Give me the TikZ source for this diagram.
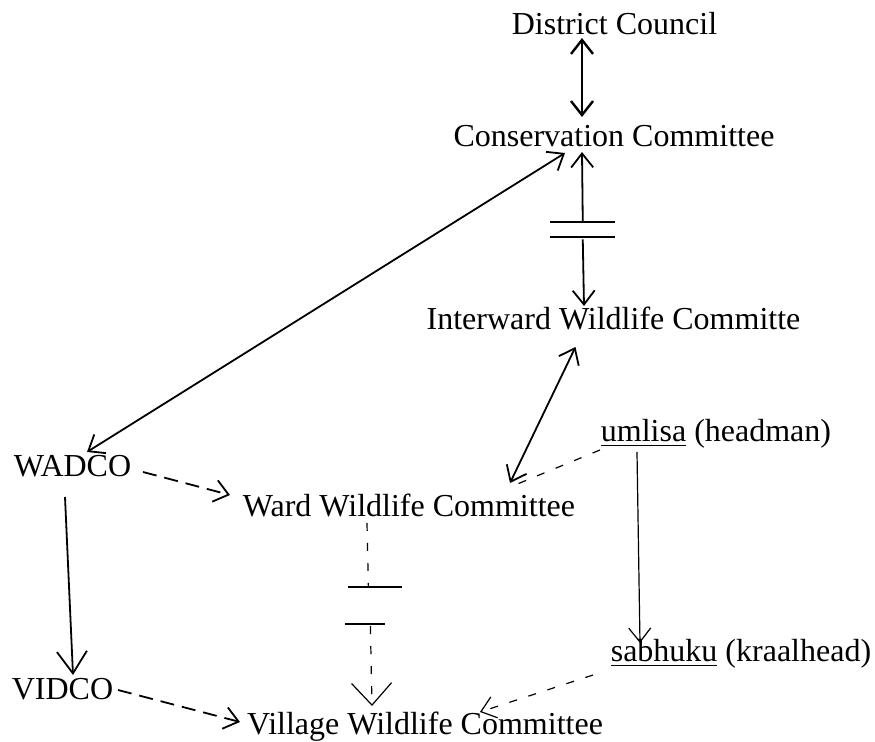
\documentclass[tikz,border=0pt]{standalone}
\usepackage{fontspec}
\setmainfont{Liberation Serif}
\usetikzlibrary{arrows.meta,calc}
\definecolor{InkClr}{rgb}{0,0,0}
\newcommand{\ulword}[1]{\underline{#1}}

\begin{document}
\begin{tikzpicture}[x=0.5pt,y=-0.5pt,
  unit/.style={font=\fontsize{16}{19}\selectfont,inner sep=0pt,anchor=base,text=InkClr},
  link/.style={line width=0.9pt,color=InkClr},
  thin link/.style={line width=0.6pt,color=InkClr},
  oneway/.style={-{Straight Barb[length=7pt,width=11pt]}},
  twoway/.style={{Straight Barb[length=7pt,width=11pt]}-{Straight Barb[length=7pt,width=11pt]}},
  bigway/.style={-{Straight Barb[length=11pt,width=15pt]}},
  hugeway/.style={-{Straight Barb[length=11pt,width=20pt]}},
  longdash/.style={dash pattern=on 7pt off 4pt},
  shortdash/.style={dash pattern=on 4pt off 6pt}]
\useasboundingbox (0,0) rectangle (875,742);

\node[unit] (dc) at (614.5,35) {District Council};
\node[unit] (cc) at (614,147) {Conservation Committee};
\node[unit] (iw) at (613.5,330) {Interward Wildlife Committe};
\node[unit] (wadco) at (72.5,477) {WADCO};
\node[unit] (ww) at (409,517) {Ward Wildlife Committee};
\node[unit] (um) at (716,442) {\ulword{umlisa} (headman)};
\node[unit] (sb) at (741,662) {\ulword{sabhuku} (kraalhead)};
\node[unit] (vidco) at (62.5,700) {VIDCO};
\node[unit] (vw) at (425,735) {Village Wildlife Committee};

\coordinate (gapA) at ($(cc.base)!0.45!(iw.base)+(-31,0)$);
\coordinate (gapB) at ($(ww.base)!0.4!(vw.base)+(-45,0)$);

\draw[link,line width=1.2pt,twoway] ($(dc.base)+(-32.5,3)$) -- ($(cc.base)+(-32,-30)$);

\draw[link,oneway] ($(gapA)+(0,-8)$) -- ($(cc.base)+(-32,5)$);
\draw[link] ($(gapA)+(-33,-7.5)$) -- ++(65,0);
\draw[link] ($(gapA)+(-33,7.5)$) -- ++(65,0);
\draw[link,oneway] ($(gapA)+(0,10)$) -- ($(iw.base)+(-29.5,-24)$);

\draw[link,twoway] ($(cc.base)+(-49,6)$) -- ($(wadco.base)+(14.5,-25)$);
\draw[link,twoway] ($(iw.base)+(-38,17)$) -- ($(ww.base)+(101,-34)$);

\draw[link,longdash,oneway] ($(wadco.base)+(70.5,-5)$) -- ($(ww.base)+(-179,-22)$);
\draw[link,bigway] ($(wadco.base)+(-7.5,20)$) -- ($(vidco.base)+(10.5,-25)$);
\draw[link,longdash,oneway] ($(vidco.base)+(55.5,-10)$) -- ($(vw.base)+(-185,-13)$);

\draw[thin link,shortdash] ($(ww.base)+(-42,6)$) -- ($(gapB)+(-2,-17)$);
\draw[link] ($(gapB)+(-22,-17)$) -- ++(54,0);
\draw[link] ($(gapB)+(-25,20)$) -- ++(40,0);
\draw[thin link,shortdash,hugeway] ($(gapB)+(0,22)$) -- ($(vw.base)+(-53,-29)$);

\draw[thin link,oneway] ($(um.base)+(-79,10)$) -- ($(sb.base)+(-101,-19)$);
\draw[thin link,shortdash] ($(um.base)+(-116,8)$) -- ($(ww.base)+(106,-32)$);
\draw[thin link,shortdash,oneway] ($(sb.base)+(-148,13)$) -- ($(vw.base)+(55,-23)$);

\end{tikzpicture}
\end{document}
